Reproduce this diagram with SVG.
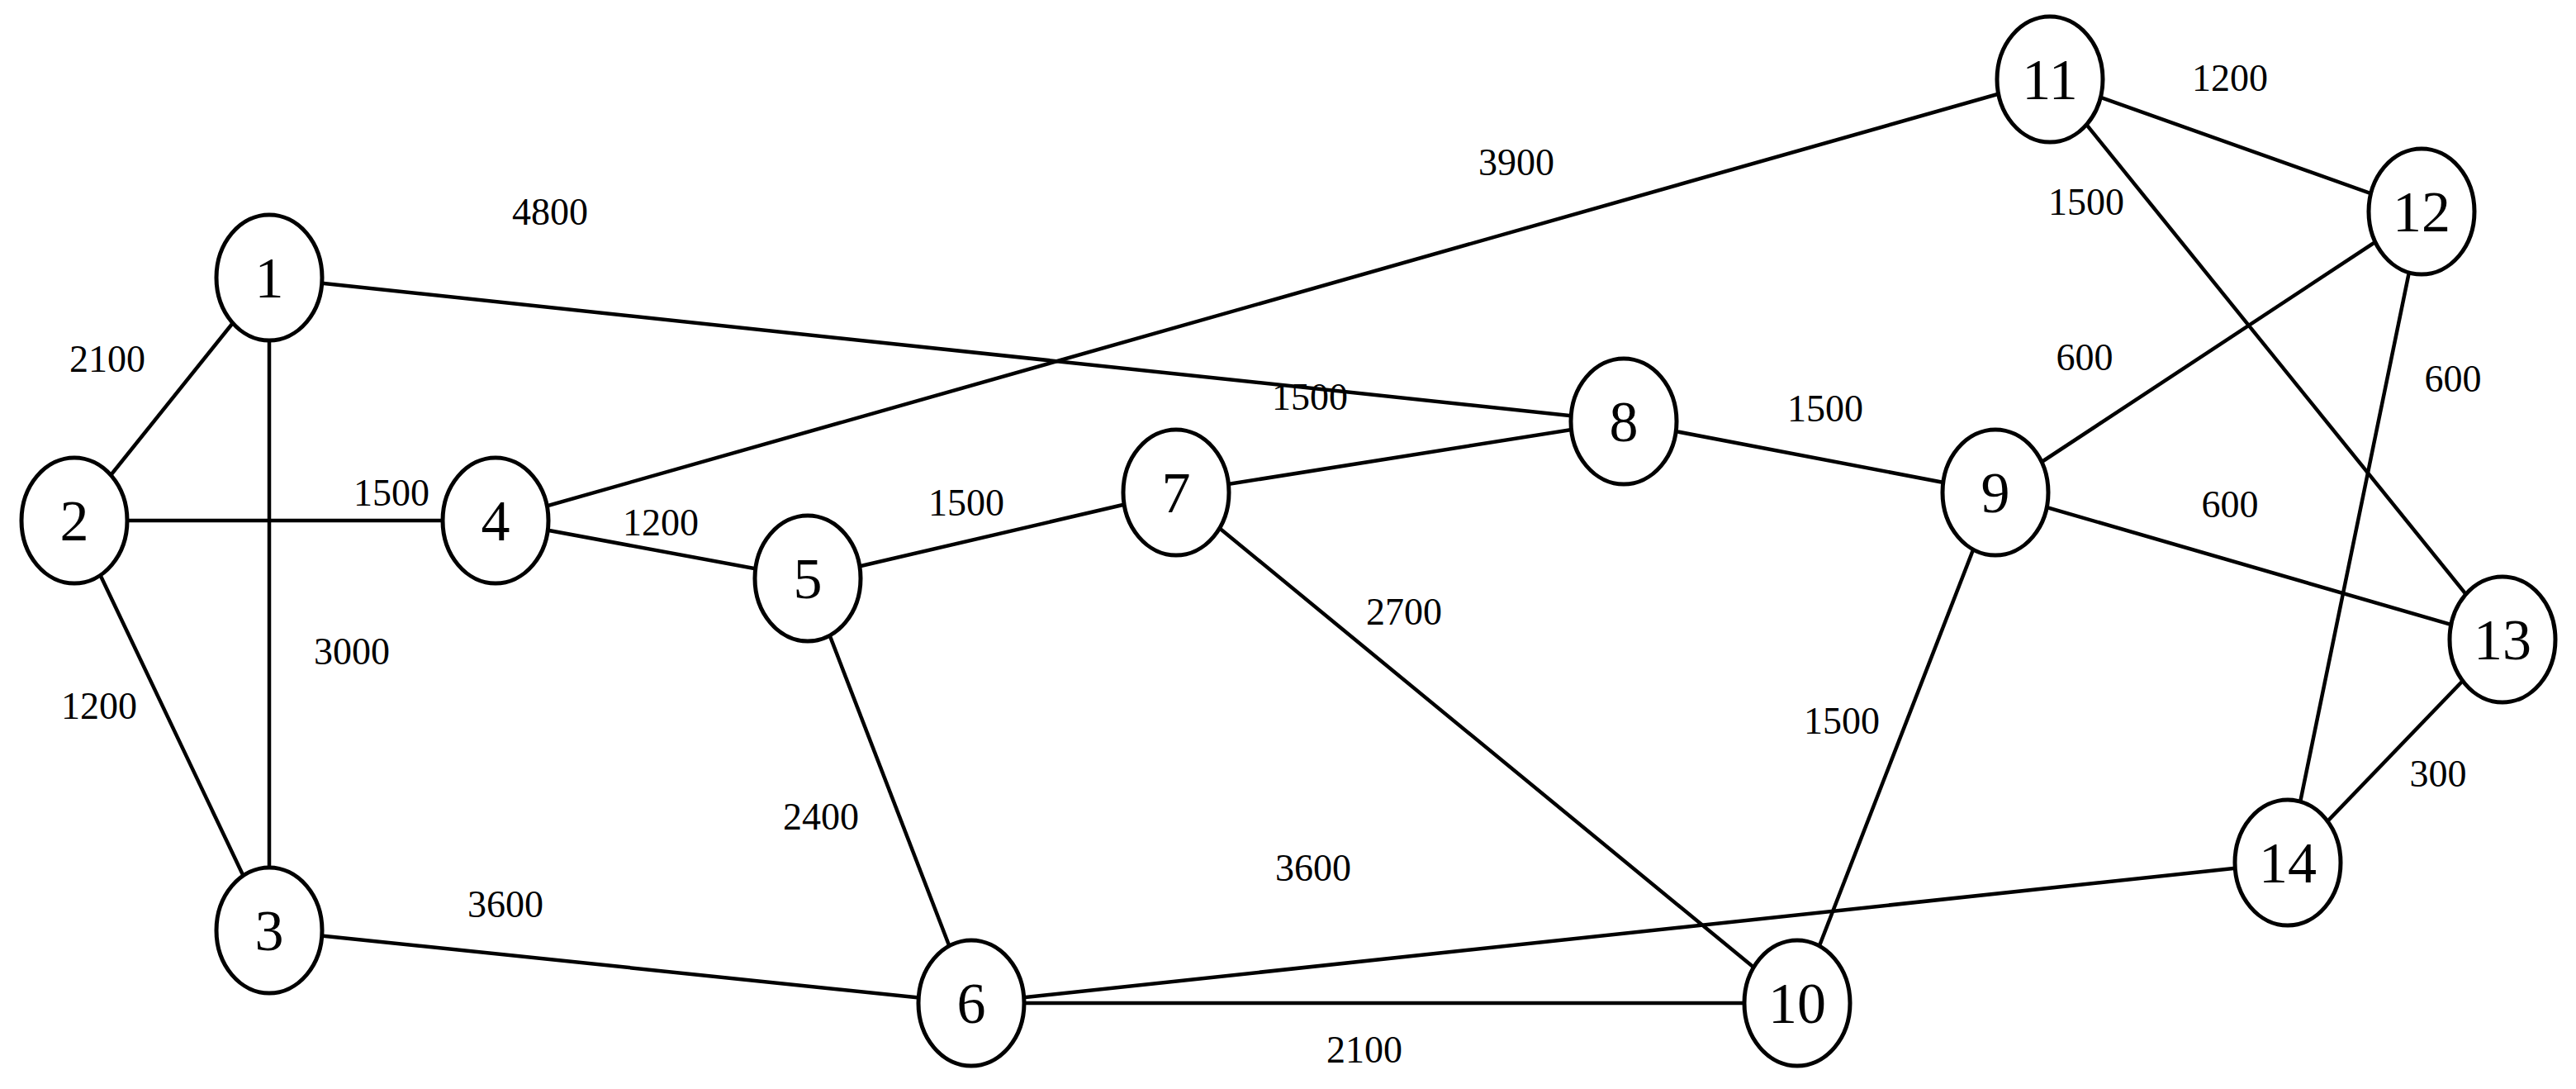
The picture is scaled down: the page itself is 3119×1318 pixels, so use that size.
<svg xmlns="http://www.w3.org/2000/svg" width="3119" height="1318" viewBox="0 0 3119 1318">
<style>
.e line{stroke:#000;stroke-width:4.5}
.n ellipse{fill:#fff;stroke:#000;stroke-width:5}
.n text{font-family:"Liberation Serif",serif;font-size:70px;text-anchor:middle;dominant-baseline:central}
.l text{font-family:"Liberation Serif",serif;font-size:46px;text-anchor:middle;dominant-baseline:central}
</style>
<rect width="3119" height="1318" fill="#fff"/>
<g id="connectors" class="e">
<line x1="326" y1="336" x2="90" y2="630"/>
<line x1="326" y1="336" x2="326" y2="1126"/>
<line x1="326" y1="336" x2="1966" y2="510"/>
<line x1="90" y1="630" x2="600" y2="630"/>
<line x1="90" y1="630" x2="326" y2="1126"/>
<line x1="326" y1="1126" x2="1176" y2="1214"/>
<line x1="600" y1="630" x2="978" y2="700"/>
<line x1="600" y1="630" x2="2482" y2="96"/>
<line x1="978" y1="700" x2="1424" y2="596"/>
<line x1="978" y1="700" x2="1176" y2="1214"/>
<line x1="1424" y1="596" x2="1966" y2="510"/>
<line x1="1424" y1="596" x2="2176" y2="1214"/>
<line x1="1966" y1="510" x2="2416" y2="596"/>
<line x1="2416" y1="596" x2="2932" y2="256"/>
<line x1="2416" y1="596" x2="3030" y2="774"/>
<line x1="2416" y1="596" x2="2176" y2="1214"/>
<line x1="2482" y1="96" x2="2932" y2="256"/>
<line x1="2482" y1="96" x2="3030" y2="774"/>
<line x1="2932" y1="256" x2="2770" y2="1044"/>
<line x1="3030" y1="774" x2="2770" y2="1044"/>
<line x1="1176" y1="1214" x2="2770" y2="1044"/>
<line x1="1176" y1="1214" x2="2176" y2="1214"/>
</g>
<g class="l">
<text x="130" y="434">2100</text><text x="666" y="256">4800</text><text x="474" y="596">1500</text>
<text x="800" y="632">1200</text><text x="426" y="788">3000</text><text x="120" y="854">1200</text>
<text x="612" y="1094">3600</text><text x="994" y="988">2400</text><text x="1170" y="608">1500</text>
<text x="1586" y="480">1500</text><text x="1700" y="740">2700</text><text x="1836" y="196">3900</text>
<text x="2210" y="494">1500</text><text x="1590" y="1050">3600</text><text x="1652" y="1270">2100</text>
<text x="2230" y="872">1500</text><text x="2524" y="432">600</text><text x="2700" y="610">600</text>
<text x="2526" y="244">1500</text><text x="2700" y="94">1200</text><text x="2970" y="458">600</text>
<text x="2952" y="936">300</text>
</g>
<g id="n1" class="n"><ellipse cx="326" cy="336" rx="64" ry="76"/><text x="326" y="336">1</text></g>
<g id="n2" class="n"><ellipse cx="90" cy="630" rx="64" ry="76"/><text x="90" y="630">2</text></g>
<g id="n3" class="n"><ellipse cx="326" cy="1126" rx="64" ry="76"/><text x="326" y="1126">3</text></g>
<g id="n4" class="n"><ellipse cx="600" cy="630" rx="64" ry="76"/><text x="600" y="630">4</text></g>
<g id="n5" class="n"><ellipse cx="978" cy="700" rx="64" ry="76"/><text x="978" y="700">5</text></g>
<g id="n6" class="n"><ellipse cx="1176" cy="1214" rx="64" ry="76"/><text x="1176" y="1214">6</text></g>
<g id="n7" class="n"><ellipse cx="1424" cy="596" rx="64" ry="76"/><text x="1424" y="596">7</text></g>
<g id="n8" class="n"><ellipse cx="1966" cy="510" rx="64" ry="76"/><text x="1966" y="510">8</text></g>
<g id="n9" class="n"><ellipse cx="2416" cy="596" rx="64" ry="76"/><text x="2416" y="596">9</text></g>
<g id="n10" class="n"><ellipse cx="2176" cy="1214" rx="64" ry="76"/><text x="2176" y="1214">10</text></g>
<g id="n11" class="n"><ellipse cx="2482" cy="96" rx="64" ry="76"/><text x="2482" y="96">11</text></g>
<g id="n12" class="n"><ellipse cx="2932" cy="256" rx="64" ry="76"/><text x="2932" y="256">12</text></g>
<g id="n13" class="n"><ellipse cx="3030" cy="774" rx="64" ry="76"/><text x="3030" y="774">13</text></g>
<g id="n14" class="n"><ellipse cx="2770" cy="1044" rx="64" ry="76"/><text x="2770" y="1044">14</text></g>
</svg>
